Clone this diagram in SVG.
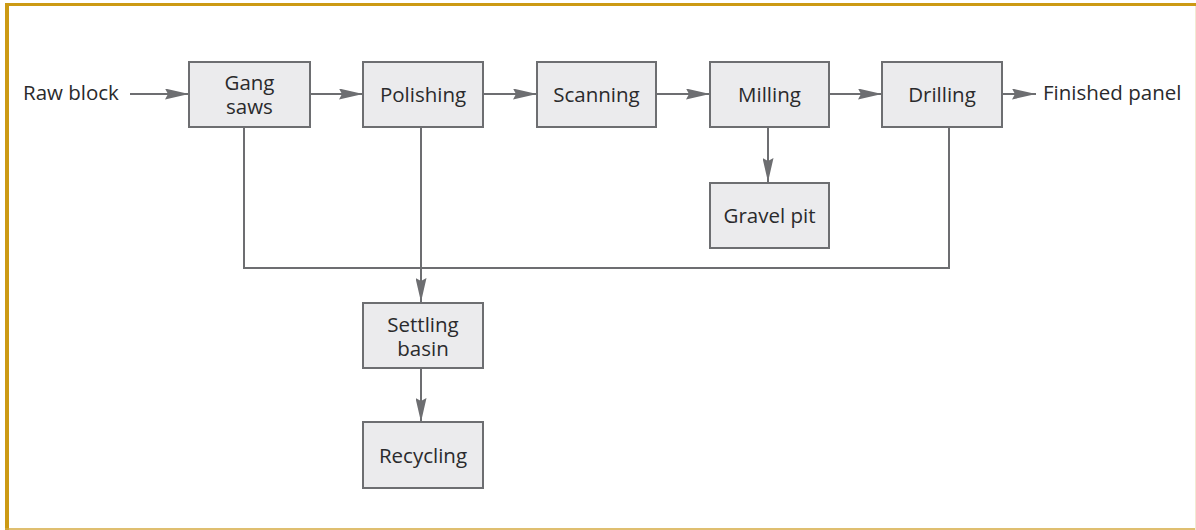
<svg xmlns="http://www.w3.org/2000/svg" width="1196" height="530" viewBox="0 0 1196 530">
  <style>
    .box { fill: #ebebed; stroke: #6d6e71; stroke-width: 2; }
    .lbl { font-family: "Open Sans", "Noto Sans", sans-serif; font-size: 20.5px; fill: #2a2a2c; text-anchor: middle; }
    .side { font-family: "Open Sans", "Noto Sans", sans-serif; font-size: 20.5px; fill: #2a2a2c; }
    .wire { fill: none; stroke: #6d6e71; stroke-width: 2; }
    .arrow { fill: none; stroke: #6d6e71; stroke-width: 2; marker-end: url(#head); }
  </style>
  <defs>
    <marker id="head" viewBox="0 0 24 11" refX="24" refY="5.5" markerWidth="24" markerHeight="11" markerUnits="userSpaceOnUse" orient="auto">
      <path d="M0,0 L24,5.5 L0,11 L3,5.5 Z" fill="#6d6e71"/>
    </marker>
  </defs>

  <!-- frame -->
  <rect x="0" y="0" width="1196" height="530" fill="#ffffff"/>
  <line x1="5" y1="4.5" x2="1196" y2="4.5" stroke="#cc9a14" stroke-width="3"/>
  <line x1="7" y1="3" x2="7" y2="530" stroke="#cc9a14" stroke-width="4"/>
  <line x1="5" y1="529" x2="1196" y2="529" stroke="#d4aa40" stroke-width="1.5"/>
  <line x1="1195.5" y1="6" x2="1195.5" y2="530" stroke="#f3ead2" stroke-width="1"/>

  <!-- connectors -->
  <g id="connectors">
    <line class="arrow" x1="130" y1="94" x2="189" y2="94"/>
    <line class="arrow" x1="310" y1="94" x2="363" y2="94"/>
    <line class="arrow" x1="483" y1="94" x2="537" y2="94"/>
    <line class="arrow" x1="656" y1="94" x2="710" y2="94"/>
    <line class="arrow" x1="829" y1="94" x2="882" y2="94"/>
    <line class="arrow" x1="1002" y1="94" x2="1036" y2="94"/>
    <line class="arrow" x1="768" y1="127" x2="768" y2="182"/>
    <polyline class="wire" points="244,127 244,268 949,268 949,127"/>
    <line class="arrow" x1="421" y1="127" x2="421" y2="302"/>
    <line class="arrow" x1="421" y1="368" x2="421" y2="422"/>
  </g>

  <!-- side labels -->
  <text class="side" x="23" y="100">Raw block</text>
  <text class="side" x="1043" y="100">Finished panel</text>

  <!-- process nodes -->
  <g id="gang-saws">
    <rect class="box" x="189" y="62" width="121" height="65"/>
    <text class="lbl" x="249.5" y="90">Gang<tspan x="249.5" dy="24">saws</tspan></text>
  </g>
  <g id="polishing">
    <rect class="box" x="363" y="62" width="120" height="65"/>
    <text class="lbl" x="423" y="102">Polishing</text>
  </g>
  <g id="scanning">
    <rect class="box" x="537" y="62" width="119" height="65"/>
    <text class="lbl" x="596.5" y="102">Scanning</text>
  </g>
  <g id="milling">
    <rect class="box" x="710" y="62" width="119" height="65"/>
    <text class="lbl" x="769.5" y="102">Milling</text>
  </g>
  <g id="drilling">
    <rect class="box" x="882" y="62" width="120" height="65"/>
    <text class="lbl" x="942" y="102">Drilling</text>
  </g>
  <g id="gravel-pit">
    <rect class="box" x="710" y="183" width="119" height="65"/>
    <text class="lbl" x="769.5" y="223">Gravel pit</text>
  </g>
  <g id="settling-basin">
    <rect class="box" x="363" y="303" width="120" height="65"/>
    <text class="lbl" x="423" y="332">Settling<tspan x="423" dy="24">basin</tspan></text>
  </g>
  <g id="recycling">
    <rect class="box" x="363" y="422" width="120" height="66"/>
    <text class="lbl" x="423" y="463">Recycling</text>
  </g>
</svg>
